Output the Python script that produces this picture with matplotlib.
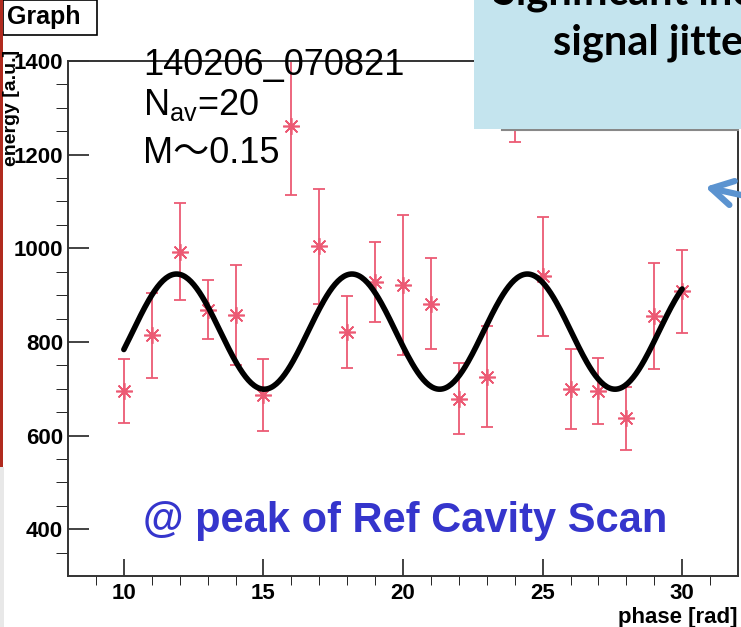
import numpy as np
import matplotlib.pyplot as plt
from matplotlib.patches import Rectangle, FancyArrowPatch
from matplotlib.lines import Line2D

plt.rcParams['font.family'] = ['Liberation Sans', 'Noto Sans CJK JP', 'DejaVu Sans']
plt.rcParams['mathtext.fontset'] = 'custom'
plt.rcParams['mathtext.rm'] = 'Liberation Sans'
plt.rcParams['mathtext.it'] = 'Liberation Sans'

# measured points (phase scan)
phase = [10, 11, 12, 13, 14, 15, 16, 17, 18, 19, 20,
         21, 22, 23, 24, 25, 26, 27, 28, 29, 30]
energy = [695, 814, 993, 869, 858, 686, 1261, 1004, 821, 928, 922,
          882, 679, 726, 1330, 940, 699, 695, 637, 855, 908]
energy_err = [68, 91, 103, 63, 107, 77, 148, 123, 77, 85, 150,
              98, 76, 107, 103, 127, 85, 71, 67, 113, 88]

# sine fit: mean + amp*sin(phase + offset)
fit_mean = 822
fit_amp = 123
fit_offset = 2.25
fit_range = (10, 30)

W, H = 741, 627


def fx(x):
    return x / W


def fy(y):
    return 1 - y / H


fig = plt.figure(figsize=(W / 100, H / 100), dpi=100)
ax = fig.add_axes([fx(68), fy(576), fx(738) - fx(68), fy(61) - fy(576)])

red = '#EC5A74'
ax.errorbar(phase, energy, yerr=energy_err, fmt='none', ecolor=red,
            elinewidth=1.3, capsize=4, capthick=1.3, zorder=2)
ax.plot(phase, energy, ls='none', marker=(8, 2, 0), ms=12, mew=1.2,
        color=red, zorder=3)
ax.plot(phase, energy, ls='none', marker='o', ms=3.5, color=red, zorder=3)

xf = np.linspace(fit_range[0], fit_range[1], 400)
ax.plot(xf, fit_mean + fit_amp * np.sin(xf + fit_offset), color='black',
        lw=4, solid_capstyle='round', zorder=4)

ax.set_xlim(8, 32)
ax.set_ylim(300, 1400)
ax.set_xticks([10, 15, 20, 25, 30])
ax.set_xticks(np.arange(9, 32, 1), minor=True)
ax.set_yticks([400, 600, 800, 1000, 1200, 1400])
ax.set_yticks(np.arange(350, 1400, 50), minor=True)

ax.tick_params(direction='in', top=False, right=False, color='#222222',
               width=1.2, labelsize=16)
ax.tick_params(axis='y', which='major', length=15, pad=3.5)
ax.tick_params(axis='y', which='minor', length=8.5)
ax.tick_params(axis='x', which='major', length=12, pad=5)
ax.tick_params(axis='x', which='minor', length=6.5)
for lab in ax.get_xticklabels() + ax.get_yticklabels():
    lab.set_fontweight('bold')
for s in ax.spines.values():
    s.set_linewidth(1.4)
    s.set_color('#333333')

# axis titles, ROOT style
fig.text(fx(738), fy(617), 'phase [rad]', ha='right', va='center',
         fontsize=16, fontweight='bold')
fig.text(fx(12), fy(50), 'energy [a.u.]', ha='center', va='top',
         rotation=90, fontsize=14, fontweight='bold')

# annotations
fig.text(fx(143), fy(75), '140206_070821', fontsize=26, va='baseline')
fig.text(fx(143), fy(115), r'N$_{\rm av}$=20', fontsize=26, va='baseline')
fig.text(fx(143), fy(163), 'M〜0.15', fontsize=26, va='baseline')
fig.text(fx(143), fy(532), '@ peak of Ref Cavity Scan', fontsize=30,
         fontweight='bold', color='#3535CC', va='baseline')

# "Graph" title box
fig.add_artist(Rectangle((fx(3), fy(35)), fx(94), 35 / H, facecolor='white',
                         edgecolor='black', lw=1.2, transform=fig.transFigure))
fig.text(fx(7), fy(17), 'Graph', fontsize=18, fontweight='bold', va='center')

# slide edge
fig.add_artist(Rectangle((0, fy(467)), fx(3), 467 / H, facecolor='#B02A1E',
                         edgecolor='none', transform=fig.transFigure))
fig.add_artist(Rectangle((0, 0), fx(4), fy(467), facecolor='#E8E8E8',
                         edgecolor='none', transform=fig.transFigure))

# slide callout box
fig.add_artist(Line2D([fx(502), fx(738)], [fy(130), fy(130)], color='#888888',
                      lw=1.5, transform=fig.transFigure, zorder=9))
fig.add_artist(Rectangle((fx(474), fy(129)), 1 - fx(474), 129 / H,
                         facecolor='#C4E4EE', edgecolor='none',
                         transform=fig.transFigure, zorder=10))
fig.text(fx(493), fy(4), 'Significant increase of', fontsize=30,
         fontweight='bold', family='Lato', va='baseline', zorder=11)
fig.text(fx(553), fy(55), 'signal jitter', fontsize=30,
         fontweight='bold', family='Lato', va='baseline', zorder=11)

# arrow from the callout
fig.add_artist(FancyArrowPatch((fx(750), fy(197)), (fx(705), fy(187)),
                               arrowstyle='->,head_length=0.7,head_width=0.4',
                               mutation_scale=22, lw=4.5, color='#5B93D0',
                               capstyle='round', joinstyle='round',
                               shrinkA=0, shrinkB=0,
                               transform=fig.transFigure, zorder=11))

fig.savefig('out.png', dpi=100)
